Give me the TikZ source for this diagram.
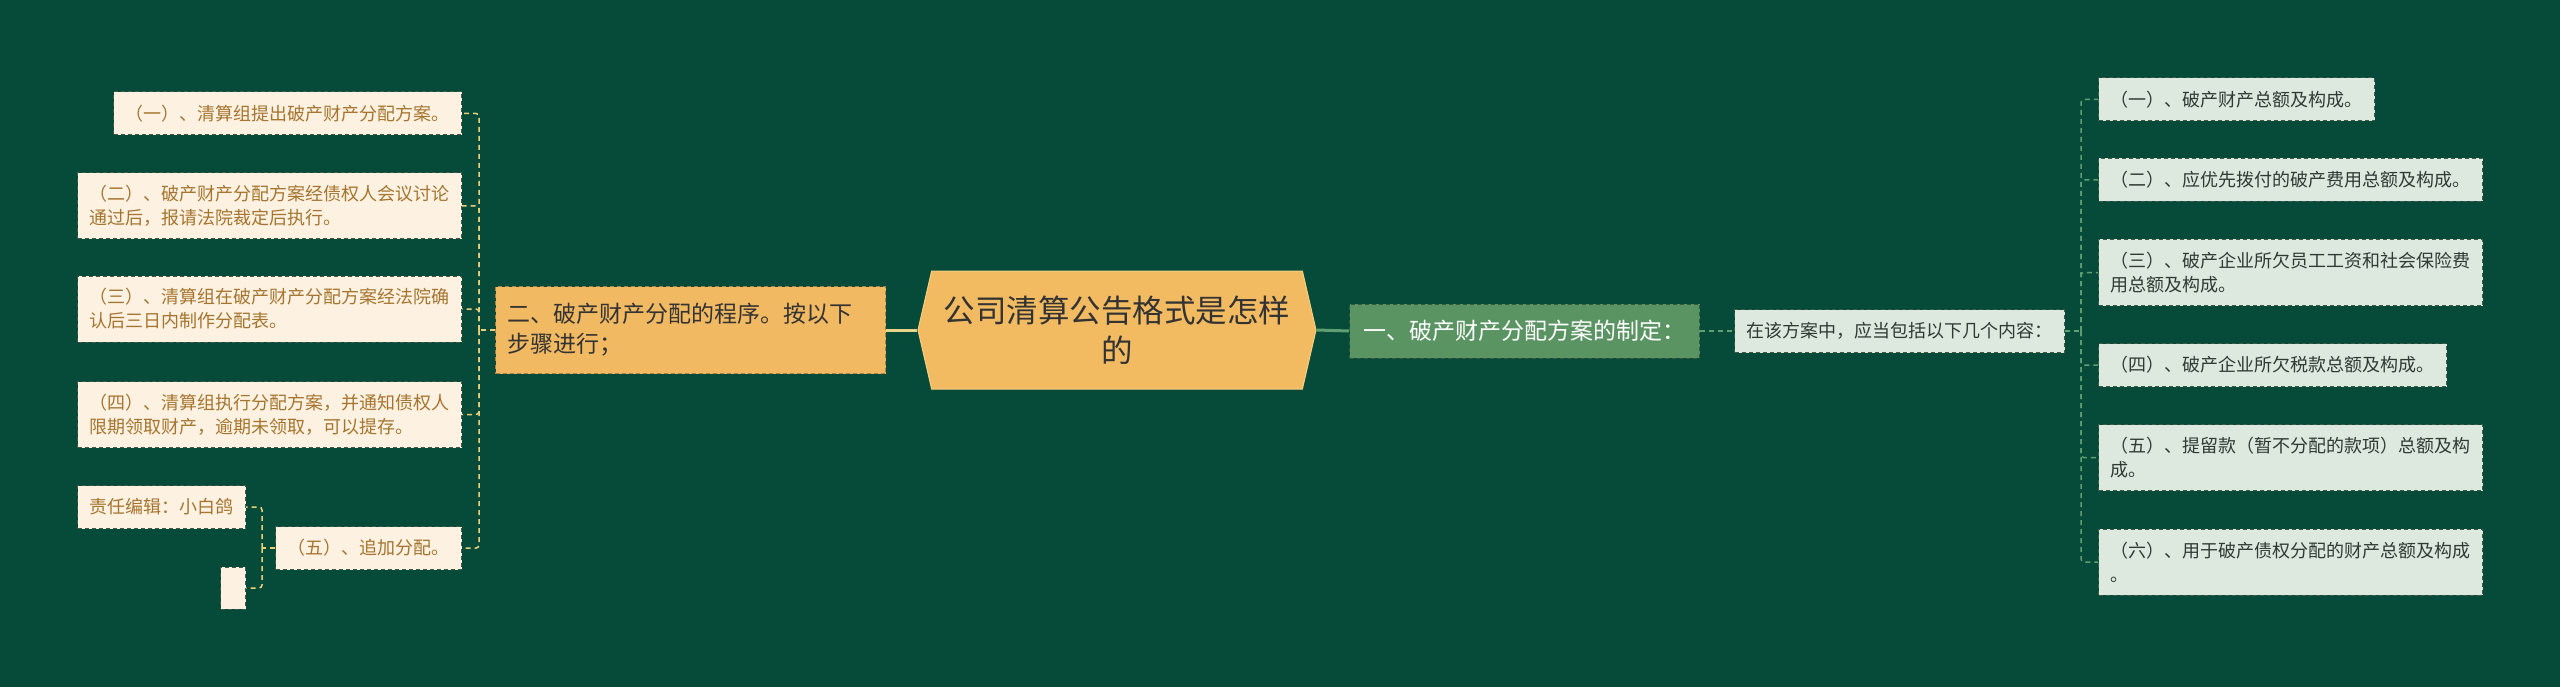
\documentclass[tikz,border=0pt]{standalone}
\usepackage{fontspec}
\setmainfont{Noto Sans CJK SC}
\usetikzlibrary{shapes.symbols}
\definecolor{bg}{HTML}{064A3A}
\definecolor{cream}{HTML}{FDF1E1}
\definecolor{browntext}{HTML}{A5752F}
\definecolor{pale}{HTML}{DDE9DF}
\definecolor{darktext}{HTML}{2F3A33}
\definecolor{rootfill}{HTML}{F2BB62}
\definecolor{rootline}{HTML}{F5CF80}
\definecolor{rootlink}{HTML}{E9D58A}
\definecolor{orangefill}{HTML}{F1B962}
\definecolor{greenfill}{HTML}{5B9463}
\definecolor{goldline}{HTML}{EDCF78}
\definecolor{greenline}{HTML}{5FA070}
\definecolor{boxline}{HTML}{3F5A48}
\tikzset{
  box/.style={rectangle,draw=boxline,dash pattern=on 4pt off 3pt,line width=1pt,
    inner xsep=12pt,inner ysep=2pt,align=left},
  lbox/.style={box,fill=cream,text=browntext,font=\fontsize{18}{24}\selectfont,
    minimum height=43pt,anchor=east},
  rbox/.style={box,fill=pale,text=darktext,font=\fontsize{18}{24}\selectfont,
    minimum height=43pt,anchor=west},
  lconn/.style={draw=goldline,line width=1.5pt,dash pattern=on 5pt off 4pt,rounded corners=3pt},
  rconn/.style={draw=greenline,line width=1.5pt,dash pattern=on 5pt off 4pt,rounded corners=3pt}
}

\begin{document}
\begin{tikzpicture}[x=1pt,y=-1pt]
\fill[bg] (0,0) rectangle (2560,687);
\useasboundingbox (0,0) rectangle (2560,687);

\node[signal,signal to=west and east,signal pointer angle=154,fill=rootfill,draw=rootline,
  line width=1pt,minimum width=398pt,minimum height=118pt,inner sep=0pt,align=center,
  text=black!80,font=\fontsize{31.5}{40}\selectfont] (root) at (1117,330) {公司清算公告格式是怎样\\的};

% left branch
\node[box,fill=orangefill,draw=orangefill!70!black,text=black!80,anchor=west,
  minimum width=390pt,minimum height=87pt,text width=366pt,
  font=\fontsize{23}{30}\selectfont] (prog) at (495,330) {二、破产财产分配的程序。按以下\\步骤进行；};
\begin{scope}[every node/.style={lbox}]
\node (l1) at (462,113.5) {（一）、清算组提出破产财产分配方案。};
\node[minimum height=66pt] (l2) at (462,206) {（二）、破产财产分配方案经债权人会议讨论\\通过后，报请法院裁定后执行。};
\node[minimum height=66pt] (l3) at (462,309) {（三）、清算组在破产财产分配方案经法院确\\认后三日内制作分配表。};
\node[minimum height=66pt] (l4) at (462,414.5) {（四）、清算组执行分配方案，并通知债权人\\限期领取财产，逾期未领取，可以提存。};
\node (l5) at (462,548) {（五）、追加分配。};
\node (editor) at (246,507) {责任编辑：小白鸽};
\node[minimum width=25pt,minimum height=42pt,inner xsep=0pt] (blank) at (246,588) {};
\end{scope}

% right branch
\node[box,fill=greenfill,draw=greenfill!60!black,text=white,anchor=west,inner xsep=14pt,
  minimum height=54pt,font=\fontsize{23}{30}\selectfont] (make) at (1349,331) {一、破产财产分配方案的制定：};
\node[rbox] (plan) at (1734,331) {在该方案中，应当包括以下几个内容：};
\begin{scope}[every node/.style={rbox}]
\node (r1) at (2098,99.5) {（一）、破产财产总额及构成。};
\node (r2) at (2098,180) {（二）、应优先拨付的破产费用总额及构成。};
\node[minimum height=66pt] (r3) at (2098,272.5) {（三）、破产企业所欠员工工资和社会保险费\\用总额及构成。};
\node (r4) at (2098,365) {（四）、破产企业所欠税款总额及构成。};
\node[minimum height=66pt] (r5) at (2098,457.5) {（五）、提留款（暂不分配的款项）总额及构\\成。};
\node[minimum height=66pt,text width=360pt] (r6) at (2098,562) {（六）、用于破产债权分配的财产总额及构成\\。};
\end{scope}

\coordinate (lbus) at (479,330);
\coordinate (sbus) at (262,548);
\coordinate (rbus) at (2081,331);

\draw[draw=rootlink,line width=3pt] (root.west) -- (prog.east);
\draw[draw=greenline,line width=3pt] (root.east) -- (make.west);
\draw[rconn] (make.east) -- (plan.west);

\draw[lconn] (prog.west) -- (lbus);
\foreach \n in {l1,l2,l3,l4,l5}
  \draw[lconn] (lbus) |- (\n.east);
\draw[lconn] (l5.west) -- (sbus);
\foreach \n in {editor,blank}
  \draw[lconn] (sbus) |- (\n.east);

\draw[rconn] (plan.east) -- (rbus);
\foreach \n in {r1,r2,r3,r4,r5,r6}
  \draw[rconn] (rbus) |- (\n.west);
\end{tikzpicture}
\end{document}
